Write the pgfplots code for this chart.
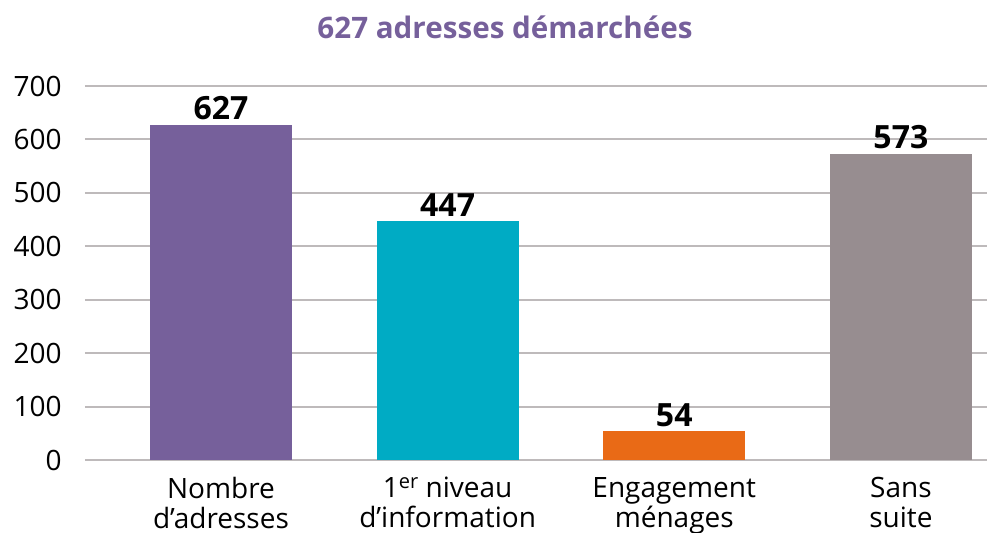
\documentclass[border=0pt]{standalone}
\usepackage{fontspec}
\setmainfont{Open Sans}
\usepackage{pgfplots}
\pgfplotsset{compat=1.18}
\definecolor{cpurple}{HTML}{76609B}
\definecolor{cteal}{HTML}{00ABC4}
\definecolor{corange}{HTML}{E96A16}
\definecolor{cgray}{HTML}{978D90}
\definecolor{gridc}{HTML}{BEBABB}
\begin{document}
\begin{tikzpicture}
\begin{axis}[
  at={(0,0)}, anchor=south west,
  scale only axis, width=451pt, height=187pt,
  xmin=-0.6, xmax=3.38, ymin=0, ymax=700,
  ytick={0,100,...,700},
  xtick={0,1,2,3},
  xticklabels={{Nombre\\d’adresses},{1{\fontsize{10}{10}\selectfont\raisebox{0.45em}{er}} niveau\\d’information},{Engagement\\ménages},{Sans\\suite}},
  xticklabel style={align=center, font=\fontsize{14}{15}\selectfont, anchor=north, inner sep=0pt, yshift=-8.5pt},
  yticklabel style={font=\fontsize{14}{14.5}\selectfont, anchor=east, inner sep=0pt, xshift=-11.5pt},
  /pgf/number format/assume math mode=true,
  ymajorgrids, grid style={line width=1pt, color=gridc},
  axis line style={draw=none}, major tick length=0pt,
  ybar, bar width=71pt, bar shift=0pt,
  nodes near coords,
  every node near coord/.append style={font=\fontsize{16}{16}\selectfont\bfseries, anchor=base, inner sep=0pt, yshift=2.5pt, text=black},
  clip=false,
]
\addplot[fill=cpurple, draw=none] coordinates {(0,627)};
\addplot[fill=cteal, draw=none] coordinates {(1,447)};
\addplot[fill=corange, draw=none] coordinates {(2,54)};
\addplot[fill=cgray, draw=none] coordinates {(3,573)};
\end{axis}
\node[font=\fontsize{14.8}{14.8}\selectfont\bfseries, text=cpurple, anchor=base] at (210pt,210.5pt) {627 adresses démarchées};
\pgfresetboundingbox
\path[use as bounding box] (-42.5pt,-36.5pt) rectangle (451pt,230pt);
\end{tikzpicture}
\end{document}
